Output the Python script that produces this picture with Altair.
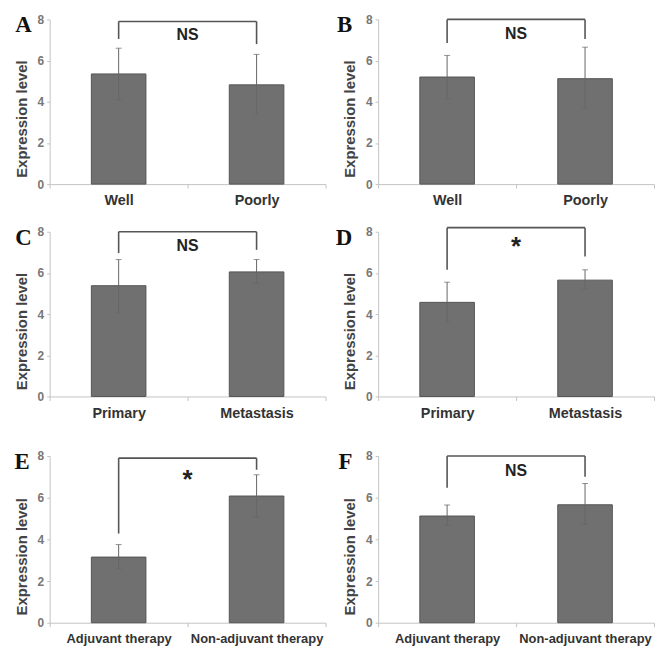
import altair as alt
import pandas as pd

# ---- data ----
letters = ["A", "B", "C", "D", "E", "F"]
cats_grade = ["Well", "Poorly"]
cats_site = ["Primary", "Metastasis"]
cats_therapy = ["Adjuvant therapy", "Non-adjuvant therapy"]

means_A = [5.35, 4.82]; lo_A = [4.10, 3.40]; hi_A = [6.60, 6.30]
means_B = [5.20, 5.12]; lo_B = [4.15, 3.70]; hi_B = [6.25, 6.65]
means_C = [5.38, 6.05]; lo_C = [4.10, 5.50]; hi_C = [6.65, 6.65]
means_D = [4.57, 5.65]; lo_D = [3.62, 5.22]; hi_D = [5.55, 6.15]
means_E = [3.15, 6.08]; lo_E = [2.58, 5.07]; hi_E = [3.75, 7.10]
means_F = [5.12, 5.66]; lo_F = [4.68, 4.72]; hi_F = [5.65, 6.68]

# significance brackets: leg bottoms, bracket top, label, label height
legs_A = [7.05, 6.80]; top_A = 7.9; sig_A = "NS"; sigy_A = 7.25
legs_B = [6.85, 7.05]; top_B = 8.0; sig_B = "NS"; sigy_B = 7.3
legs_C = [6.96, 7.12]; top_C = 8.0; sig_C = "NS"; sigy_C = 7.3
legs_D = [6.15, 6.80]; top_D = 8.2; sig_D = "*"; sigy_D = 7.45
legs_E = [4.28, 7.34]; top_E = 7.9; sig_E = "*"; sigy_E = 7.05
legs_F = [6.48, 7.00]; top_F = 8.0; sig_F = "NS"; sigy_F = 7.3

y_ticks = [0, 2, 4, 6, 8]

SANS = "Liberation Sans"
SERIF = "Liberation Serif"
AXIS_GRAY = "#c4c4c4"
LINE = "#555555"


def panel(letter, cats, means, lo, hi, legs, top, sig, sigy, width, height,
          letter_dx, label_size):
    df = pd.DataFrame({"cat": cats, "mean": means, "lo": lo, "hi": hi,
                       "leg": legs, "top": [top, top]})
    br = pd.DataFrame({"c1": [cats[0]], "c2": [cats[1]], "top": [top]})
    sg = pd.DataFrame({"cat": [cats[0]], "y": [sigy], "txt": [sig]})
    lt = pd.DataFrame({"t": [letter]})

    xaxis = alt.Axis(title=None, labelAngle=0, labelFont=SANS,
                     labelFontWeight="bold", labelFontSize=label_size,
                     labelColor="#333333", tickBand="extent", tickSize=4,
                     tickColor=AXIS_GRAY, domainColor=AXIS_GRAY,
                     labelPadding=6)
    xscale = alt.Scale(domain=cats, paddingInner=0, paddingOuter=0)
    yaxis = alt.Axis(title="Expression level", values=y_ticks, format="d",
                     grid=False, labelFont=SANS, labelFontWeight="bold",
                     labelFontSize=12, labelColor="#777777", tickSize=3,
                     tickColor=AXIS_GRAY, domainColor=AXIS_GRAY,
                     labelPadding=3, titleFont=SANS, titleFontWeight="bold",
                     titleFontSize=15, titleColor="#444444", titlePadding=8,
                     titleY=height / 2 + 17)
    yscale = alt.Scale(domain=[0, 8], nice=False)

    def X(f, **kw):
        return alt.X(f, type="nominal", scale=xscale, axis=xaxis, sort=cats, **kw)

    def Y(f):
        return alt.Y(f, type="quantitative", scale=yscale, axis=yaxis)

    base = alt.Chart(df)
    bars = base.mark_bar(size=55, fill="#707070", stroke=LINE,
                         strokeWidth=1).encode(x=X("cat"), y=Y("mean"))
    err = base.mark_rule(color="#666666", strokeWidth=1).encode(
        x=X("cat"), y=Y("lo"), y2="hi")
    cap_lo = base.mark_tick(color="#666666", size=6, thickness=1).encode(
        x=X("cat"), y=Y("lo"))
    cap_hi = base.mark_tick(color="#666666", size=6, thickness=1).encode(
        x=X("cat"), y=Y("hi"))
    legs_m = base.mark_rule(color=LINE, strokeWidth=1.6).encode(
        x=X("cat"), y=Y("leg"), y2="top")
    bracket = alt.Chart(br).mark_rule(color=LINE, strokeWidth=1.6).encode(
        x=X("c1"), x2="c2", y=Y("top"))
    is_star = sig == "*"
    sig_t = alt.Chart(sg).mark_text(
        font=SANS, fontWeight="bold", fontSize=26 if is_star else 16,
        color="#222222", baseline="middle", dy=4 if is_star else 0).encode(
        x=X("cat", bandPosition=1), y=Y("y"), text="txt:N")
    let = alt.Chart(lt).mark_text(
        font=SERIF, fontWeight="bold", fontSize=23, color="#111111",
        align="right", baseline="alphabetic").encode(
        x=alt.value(letter_dx), y=alt.value(13), text="t:N")
    return alt.layer(bars, err, cap_lo, cap_hi, legs_m, bracket, sig_t,
                     let).properties(width=width, height=height)


W = 278
pA = panel("A", cats_grade, means_A, lo_A, hi_A, legs_A, top_A, sig_A, sigy_A, W, 166, -18, 14.5)
pB = panel("B", cats_grade, means_B, lo_B, hi_B, legs_B, top_B, sig_B, sigy_B, W, 166, -26, 14.5)
pC = panel("C", cats_site, means_C, lo_C, hi_C, legs_C, top_C, sig_C, sigy_C, W, 166, -18, 14.5)
pD = panel("D", cats_site, means_D, lo_D, hi_D, legs_D, top_D, sig_D, sigy_D, W, 166, -26, 14.5)
pE = panel("E", cats_therapy, means_E, lo_E, hi_E, legs_E, top_E, sig_E, sigy_E, W, 168, -20, 13)
pF = panel("F", cats_therapy, means_F, lo_F, hi_F, legs_F, top_F, sig_F, sigy_F, W, 168, -26, 13)

row1 = alt.hconcat(pA, pB, spacing=53, bounds="flush")
row2 = alt.hconcat(pC, pD, spacing=53, bounds="flush")
row3 = alt.hconcat(pE, pF, spacing=53, bounds="flush")

top_rows = alt.vconcat(row1, row2, spacing=18)
chart = alt.vconcat(top_rows, row3, spacing=30).properties(
    padding={"left": 6, "top": 3, "right": 0, "bottom": 0}
).configure_view(stroke=None)

chart.save("out.html", embed_options={"renderer": "svg", "actions": False})
